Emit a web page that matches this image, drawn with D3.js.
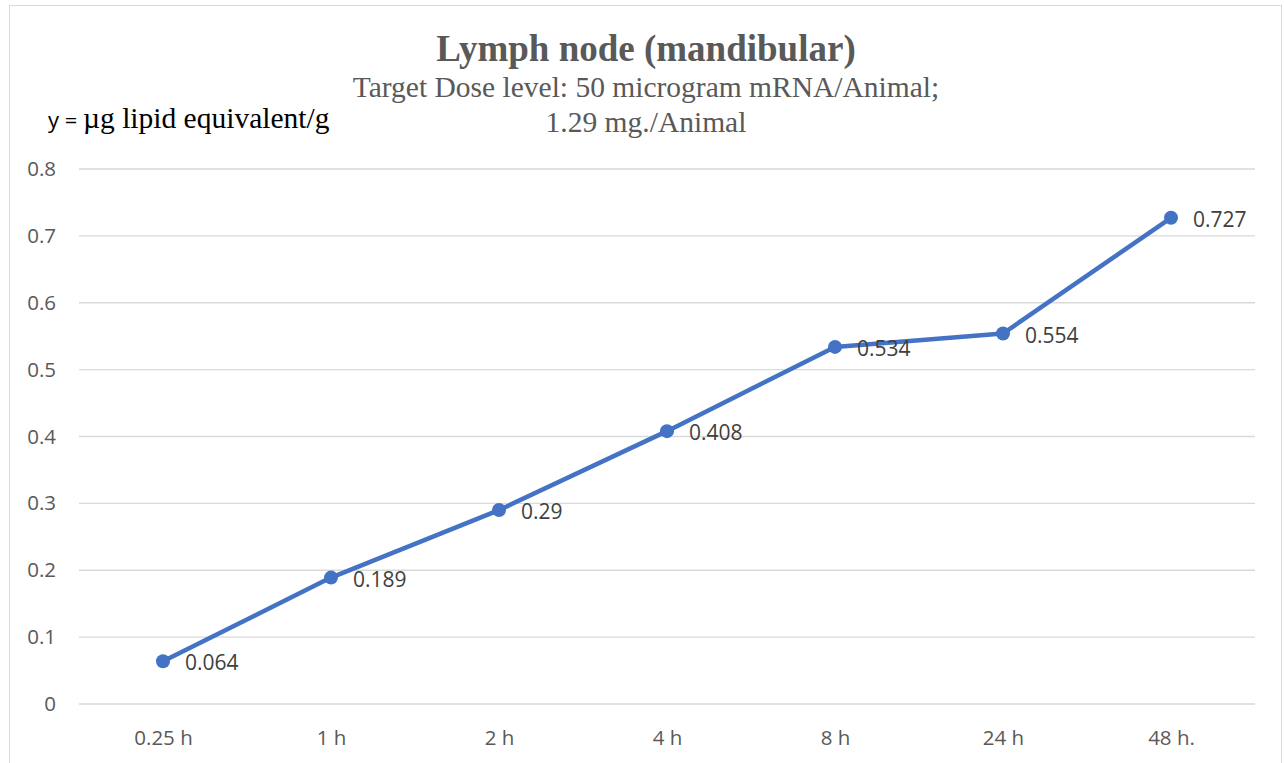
<!DOCTYPE html>
<html>
<head>
<meta charset="utf-8">
<script src="https://cdn.jsdelivr.net/npm/d3@7"></script>
<style>
  body { margin: 0; background: #fff; }
  svg { display: block; }
</style>
</head>
<body>
<svg id="chart" width="1284" height="763"></svg>
<script>
// data
var categories = ['0.25 h', '1 h', '2 h', '4 h', '8 h', '24 h', '48 h.']
var values = [0.064, 0.189, 0.29, 0.408, 0.534, 0.554, 0.727]
var yTicks = [0, 0.1, 0.2, 0.3, 0.4, 0.5, 0.6, 0.7, 0.8]

var svg = d3.select('#chart')
var margin = { top: 169, right: 29, bottom: 59, left: 79 }
var width = +svg.attr('width') - margin.left - margin.right
var height = +svg.attr('height') - margin.top - margin.bottom
var sans = '"Open Sans", "Noto Sans", sans-serif'
var serif = '"Liberation Serif", "DejaVu Serif", serif'

// chart border
svg.append('rect')
    .attr('x', 9.5).attr('y', 5.5)
    .attr('width', 1272).attr('height', 770)
    .attr('fill', '#fff')
    .attr('stroke', '#d9d9d9')

// titles
svg.append('text')
    .attr('x', 646).attr('y', 61)
    .attr('text-anchor', 'middle')
    .attr('font-family', serif).attr('font-weight', 'bold')
    .attr('font-size', 37).attr('fill', '#595959')
    .text('Lymph node (mandibular)')
svg.append('text')
    .attr('x', 646).attr('y', 97)
    .attr('text-anchor', 'middle')
    .attr('font-family', serif)
    .attr('font-size', 29.5).attr('fill', '#595959')
    .text('Target Dose level: 50 microgram mRNA/Animal;')
svg.append('text')
    .attr('x', 646).attr('y', 132)
    .attr('text-anchor', 'middle')
    .attr('font-family', serif)
    .attr('font-size', 29.5).attr('fill', '#595959')
    .text('1.29 mg./Animal')

var ylab = svg.append('text')
    .attr('x', 48).attr('y', 128)
    .attr('font-size', 29.5).attr('fill', '#000')
ylab.append('tspan').attr('font-family', sans).attr('font-size', 22).text('y = ')
ylab.append('tspan').attr('font-family', serif).text('\u00b5g lipid equivalent/g')

var g = svg.append('g')
    .attr('transform', 'translate(' + margin.left + ',' + margin.top + ')')

var x = d3.scalePoint().domain(categories).range([0, width]).padding(0.5)
var y = d3.scaleLinear().domain([0, 0.8]).range([height, 0])

// gridlines
g.selectAll('.grid').data(yTicks).enter()
  .append('line')
    .attr('x1', 0).attr('x2', width)
    .attr('y1', (d) => y(d)).attr('y2', (d) => y(d))
    .attr('stroke', '#d9d9d9').attr('stroke-width', 1.3)

// y axis labels
var yAxis = g.append('g')
    .call(d3.axisLeft(y).tickValues(yTicks).tickFormat((d) => String(d)).tickSize(0).tickPadding(23))
yAxis.select('.domain').remove()
yAxis.selectAll('text')
    .attr('font-family', sans).attr('font-size', 20.5).attr('fill', '#595959')

// x axis labels
var xAxis = g.append('g')
    .attr('transform', 'translate(0,' + height + ')')
    .call(d3.axisBottom(x).tickSize(0).tickPadding(26))
xAxis.select('.domain').remove()
xAxis.selectAll('text')
    .attr('font-family', sans).attr('font-size', 20.5).attr('fill', '#595959')

// series
var line = d3.line()
    .x((d, i) => x(categories[i]))
    .y((d) => y(d))
g.append('path')
    .datum(values)
    .attr('d', line)
    .attr('fill', 'none')
    .attr('stroke', '#4472c4')
    .attr('stroke-width', 4.5)
    .attr('stroke-linejoin', 'round')

g.selectAll('.dot').data(values).enter()
  .append('circle')
    .attr('cx', (d, i) => x(categories[i]))
    .attr('cy', (d) => y(d))
    .attr('r', 7)
    .attr('fill', '#4472c4')

g.selectAll('.lbl').data(values).enter()
  .append('text')
    .attr('x', (d, i) => x(categories[i]) + 22)
    .attr('y', (d) => y(d) + 9)
    .attr('font-family', sans).attr('font-size', 21).attr('fill', '#404040')
    .text((d) => String(d))
</script>
</body>
</html>
